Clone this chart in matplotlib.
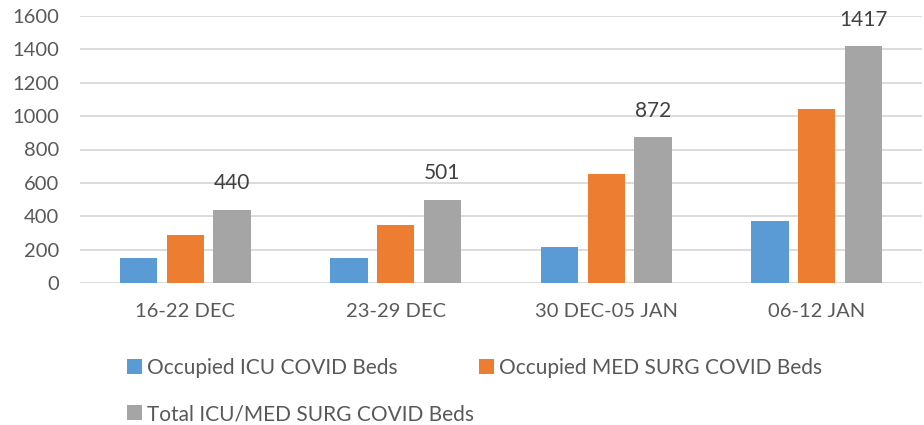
import matplotlib
matplotlib.use("Agg")
import matplotlib.pyplot as plt
import numpy as np
from matplotlib.patches import Patch

plt.rcParams['font.family'] = ['Lato', 'DejaVu Sans']

categories = ["16-22 DEC", "23-29 DEC", "30 DEC-05 JAN", "06-12 JAN"]
icu_beds = [149, 151, 217, 371]
medsurg_beds = [288, 347, 651, 1044]
total_beds = [440, 501, 872, 1417]
series_names = ["Occupied ICU COVID Beds", "Occupied MED SURG COVID Beds",
                "Total ICU/MED SURG COVID Beds"]
colors = ["#5B9BD5", "#ED7D31", "#A5A5A5"]

fig = plt.figure(figsize=(9.24, 4.25), dpi=100)
ax = fig.add_axes([80 / 924, 1 - 283.3 / 425, 842 / 924, 267.6 / 425])

x = np.arange(len(categories))
width = 0.176
pitch = 0.222
bars = []
for i, (vals, col) in enumerate(zip([icu_beds, medsurg_beds, total_beds], colors)):
    b = ax.bar(x + (i - 1) * pitch, vals, width, color=col, zorder=3)
    bars.append(b)

ax.bar_label(bars[2], labels=[str(v) for v in total_beds], padding=12,
             fontsize=15, color="#404040")

ax.set_xlim(-0.5, len(categories) - 0.5)
ax.set_ylim(0, 1600)
ax.set_yticks(np.arange(0, 1601, 200))
ax.set_xticks(x)
ax.set_xticklabels(categories)
ax.tick_params(axis='both', length=0, labelsize=14.5, labelcolor="#595959")
ax.tick_params(axis='y', pad=15)
ax.tick_params(axis='x', pad=14)
ax.grid(axis='y', color="#D9D9D9", linewidth=1.3, zorder=0)
for s in ax.spines.values():
    s.set_visible(False)

handles = [Patch(facecolor=c, edgecolor='none') for c in colors]
legend_kw = dict(loc='upper left', frameon=False, fontsize=15,
                 labelcolor="#595959", handlelength=0.7, handleheight=0.7,
                 handletextpad=0.25, labelspacing=1.25, borderpad=0,
                 borderaxespad=0)
leg1 = fig.legend([handles[0], handles[2]], [series_names[0], series_names[2]],
                  bbox_to_anchor=(127 / 924, 1 - 358 / 425), **legend_kw)
leg2 = fig.legend([handles[1]], [series_names[1]],
                  bbox_to_anchor=(479 / 924, 1 - 358 / 425), **legend_kw)

fig.savefig("out.png", dpi=100)
